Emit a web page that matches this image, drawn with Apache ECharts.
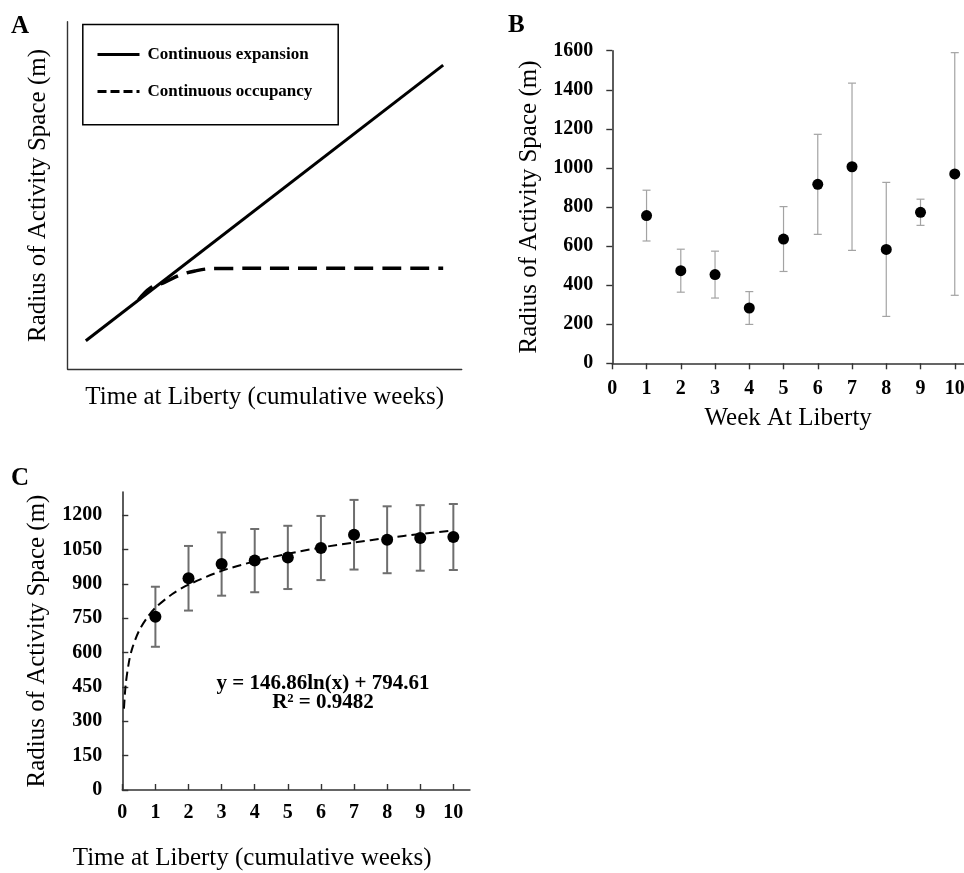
<!DOCTYPE html>
<html>
<head>
<meta charset="utf-8">
<script src="https://cdn.jsdelivr.net/npm/echarts@6/dist/echarts.min.js"></script>
<style>
html,body{margin:0;padding:0;background:#fff;}
#chart{width:964px;height:873px;}
</style>
</head>
<body>
<div id="chart"></div>
<script>
// ---------- Panel A (schematic, arbitrary units 0-100) ----------
var aExpansionX = [4.6, 95.3];
var aExpansionY = [8.2, 87.5];
var aOccupancyX = [18.0, 21.0, 24.7, 28.5, 32.3, 37.4, 60.0, 95.3];
var aOccupancyY = [20.0, 23.4, 25.1, 27.1, 28.3, 29.0, 29.06, 29.06];
var aLegendNames = ['Continuous expansion', 'Continuous occupancy'];

// ---------- Panel B ----------
var weeks = [1, 2, 3, 4, 5, 6, 7, 8, 9, 10];
var bMean = [756, 474, 454, 283, 636, 916, 1006, 583, 773, 969];
var bErr  = [130, 110, 120, 84, 166, 256, 428, 343, 67, 621];
var bXTicks = [0, 1, 2, 3, 4, 5, 6, 7, 8, 9, 10];

// ---------- Panel C ----------
var cMean = [756, 924, 986, 1001, 1015, 1056, 1114, 1092, 1100, 1104];
var cErr  = [131, 141, 138, 138, 138, 140, 152, 146, 143, 144];
var cXTicks = [0, 1, 2, 3, 4, 5, 6, 7, 8, 9, 10];
var cYTicks = [0, 150, 300, 450, 600, 750, 900, 1050, 1200];
var trendX = [0.05, 0.1, 0.2, 0.3, 0.5, 0.75, 1, 1.5, 2, 3, 4, 5, 6, 7, 8, 9, 10];
var trendY = [355, 456, 558, 618, 693, 752, 795, 854, 896, 956, 998, 1031, 1058, 1080, 1100, 1117, 1133];
var trendText = ['y = 146.86ln(x) + 794.61', 'R² = 0.9482'];

var SERIF = "'Liberation Serif', 'Times New Roman', serif";

function zip(a, b) { return a.map(function (v, i) { return [v, b[i]]; }); }
function errData(x, m, e) { return x.map(function (v, i) { return [v, m[i] - e[i], m[i] + e[i]]; }); }
function plain(v) { return String(v); }

function errRender(color, width, cap) {
  return function (params, api) {
    var x = api.value(0), lo = api.value(1), hi = api.value(2);
    var p1 = api.coord([x, lo]), p2 = api.coord([x, hi]);
    var st = { stroke: color, lineWidth: width };
    return {
      type: 'group',
      children: [
        { type: 'line', shape: { x1: p1[0], y1: p1[1], x2: p2[0], y2: p2[1] }, style: st },
        { type: 'line', shape: { x1: p1[0] - cap, y1: p1[1], x2: p1[0] + cap, y2: p1[1] }, style: st },
        { type: 'line', shape: { x1: p2[0] - cap, y1: p2[1], x2: p2[0] + cap, y2: p2[1] }, style: st }
      ]
    };
  };
}

var tickLabel = { fontFamily: SERIF, fontWeight: 'bold', fontSize: 20, color: '#000', formatter: plain };
var nameStyle = { fontFamily: SERIF, fontSize: 25, color: '#000' };

var chart = echarts.init(document.getElementById('chart'), null, { renderer: 'canvas' });

var option = {
  backgroundColor: '#fff',
  animation: false,
  grid: [
    { left: 67.7, top: 21.7, width: 394, height: 347.6, containLabel: false, outerBoundsMode: 'none' },
    { left: 612.3, top: 50.7, width: 351.7, height: 312.6, containLabel: false, outerBoundsMode: 'none' },
    { left: 122.3, top: 492.1, width: 347.6, height: 297.9, containLabel: false, outerBoundsMode: 'none' }
  ],
  xAxis: [
    { gridIndex: 0, type: 'value', min: 0, max: 100,
      axisLine: { show: true, lineStyle: { color: '#333', width: 1.4 } },
      axisTick: { show: false }, axisLabel: { show: false }, splitLine: { show: false },
      name: 'Time at Liberty (cumulative weeks)', nameLocation: 'middle', nameGap: 16,
      nameTextStyle: nameStyle },
    { gridIndex: 1, type: 'value', min: 0, max: 10.27,
      axisLine: { show: true, onZero: false, lineStyle: { color: '#333', width: 1.6 } },
      axisTick: { show: true, inside: false, length: 6, customValues: bXTicks, lineStyle: { color: '#333', width: 1.4 } },
      axisLabel: Object.assign({ margin: 16, customValues: bXTicks }, tickLabel),
      splitLine: { show: false },
      name: 'Week At Liberty', nameLocation: 'middle', nameGap: 43, nameTextStyle: nameStyle },
    { gridIndex: 2, type: 'value', min: 0, max: 10.5,
      axisLine: { show: true, onZero: false, lineStyle: { color: '#333', width: 1.6 } },
      axisTick: { show: true, inside: true, length: 6, customValues: cXTicks, lineStyle: { color: '#333', width: 1.4 } },
      axisLabel: Object.assign({ margin: 13, customValues: cXTicks }, tickLabel),
      splitLine: { show: false },
      name: 'Time at Liberty (cumulative weeks)', nameLocation: 'middle', nameGap: 56,
      nameTextStyle: Object.assign({ padding: [0, 88, 0, 0] }, nameStyle) }
  ],
  yAxis: [
    { gridIndex: 0, type: 'value', min: 0, max: 100,
      axisLine: { show: true, lineStyle: { color: '#333', width: 1.4 } },
      axisTick: { show: false }, axisLabel: { show: false }, splitLine: { show: false },
      name: 'Radius of Activity Space (m)', nameLocation: 'middle', nameGap: 17,
      nameTextStyle: nameStyle },
    { gridIndex: 1, type: 'value', min: 0, max: 1600, interval: 200,
      axisLine: { show: true, onZero: false, lineStyle: { color: '#333', width: 1.6 } },
      axisTick: { show: true, inside: false, length: 6, lineStyle: { color: '#333', width: 1.4 } },
      axisLabel: Object.assign({ margin: 19 }, tickLabel),
      splitLine: { show: false },
      name: 'Radius of Activity Space (m)', nameLocation: 'middle', nameGap: 70,
      nameTextStyle: nameStyle },
    { gridIndex: 2, type: 'value', min: 0, max: 1300,
      axisLine: { show: true, onZero: false, lineStyle: { color: '#333', width: 1.6 } },
      axisTick: { show: true, inside: true, length: 6, customValues: cYTicks, lineStyle: { color: '#333', width: 1.4 } },
      axisLabel: Object.assign({ margin: 20, customValues: cYTicks }, tickLabel),
      splitLine: { show: false },
      name: 'Radius of Activity Space (m)', nameLocation: 'middle', nameGap: 72,
      nameTextStyle: nameStyle }
  ],
  legend: {
    left: 91, top: 41, orient: 'vertical', itemWidth: 42, itemHeight: 14, itemGap: 20,
    textStyle: { fontFamily: SERIF, fontWeight: 'bold', fontSize: 17, color: '#000', padding: [0, 0, 0, 3] },
    data: [
      { name: aLegendNames[0], itemStyle: { opacity: 0 }, lineStyle: { width: 3, type: 'solid' } },
      { name: aLegendNames[1], itemStyle: { opacity: 0 }, lineStyle: { width: 3, type: [9, 4] } }
    ]
  },
  series: [
    { name: aLegendNames[0], type: 'line', xAxisIndex: 0, yAxisIndex: 0, symbol: 'none',
      data: zip(aExpansionX, aExpansionY), lineStyle: { color: '#000', width: 3 }, itemStyle: { color: '#000' }, z: 3 },
    { name: aLegendNames[1], type: 'line', xAxisIndex: 0, yAxisIndex: 0, symbol: 'none', smooth: 0.4,
      data: zip(aOccupancyX, aOccupancyY), lineStyle: { color: '#000', width: 3.5, type: [19, 9] }, itemStyle: { color: '#000' }, z: 2 },

    { type: 'custom', xAxisIndex: 1, yAxisIndex: 1, renderItem: errRender('#a3a3a3', 1.2, 4),
      encode: { x: 0, y: [1, 2] }, data: errData(weeks, bMean, bErr), z: 2 },
    { type: 'scatter', xAxisIndex: 1, yAxisIndex: 1, symbol: 'circle', symbolSize: 11,
      data: zip(weeks, bMean), itemStyle: { color: '#000', opacity: 1 }, z: 3 },

    { type: 'custom', xAxisIndex: 2, yAxisIndex: 2, renderItem: errRender('#6e6e6e', 2, 4.5),
      encode: { x: 0, y: [1, 2] }, data: errData(weeks, cMean, cErr), z: 2 },
    { type: 'scatter', xAxisIndex: 2, yAxisIndex: 2, symbol: 'circle', symbolSize: 12,
      data: zip(weeks, cMean), itemStyle: { color: '#000', opacity: 1 }, z: 3 },
    { type: 'line', xAxisIndex: 2, yAxisIndex: 2, symbol: 'none', smooth: 0.3,
      data: zip(trendX, trendY), lineStyle: { color: '#000', width: 2, type: [9, 5] }, z: 4 }
  ],
  graphic: [
    { type: 'rect', left: 80.3, top: 22, shape: { width: 255.4, height: 100.3 },
      style: { fill: 'none', stroke: '#000', lineWidth: 1.5 }, z: 10 },
    { type: 'text', left: 11, top: 14, style: { text: 'A', font: 'bold 25px ' + SERIF, fill: '#000' } },
    { type: 'text', left: 508, top: 13, style: { text: 'B', font: 'bold 25px ' + SERIF, fill: '#000' } },
    { type: 'text', left: 11, top: 466, style: { text: 'C', font: 'bold 25px ' + SERIF, fill: '#000' } },
    { type: 'text', x: 323, y: 684, style: { text: trendText[0], font: 'bold 21px ' + SERIF, fill: '#000', textAlign: 'center', textVerticalAlign: 'middle' } },
    { type: 'text', x: 323, y: 703, style: { text: trendText[1], font: 'bold 21px ' + SERIF, fill: '#000', textAlign: 'center', textVerticalAlign: 'middle' } }
  ]
};
chart.setOption(option);
</script>
</body>
</html>
